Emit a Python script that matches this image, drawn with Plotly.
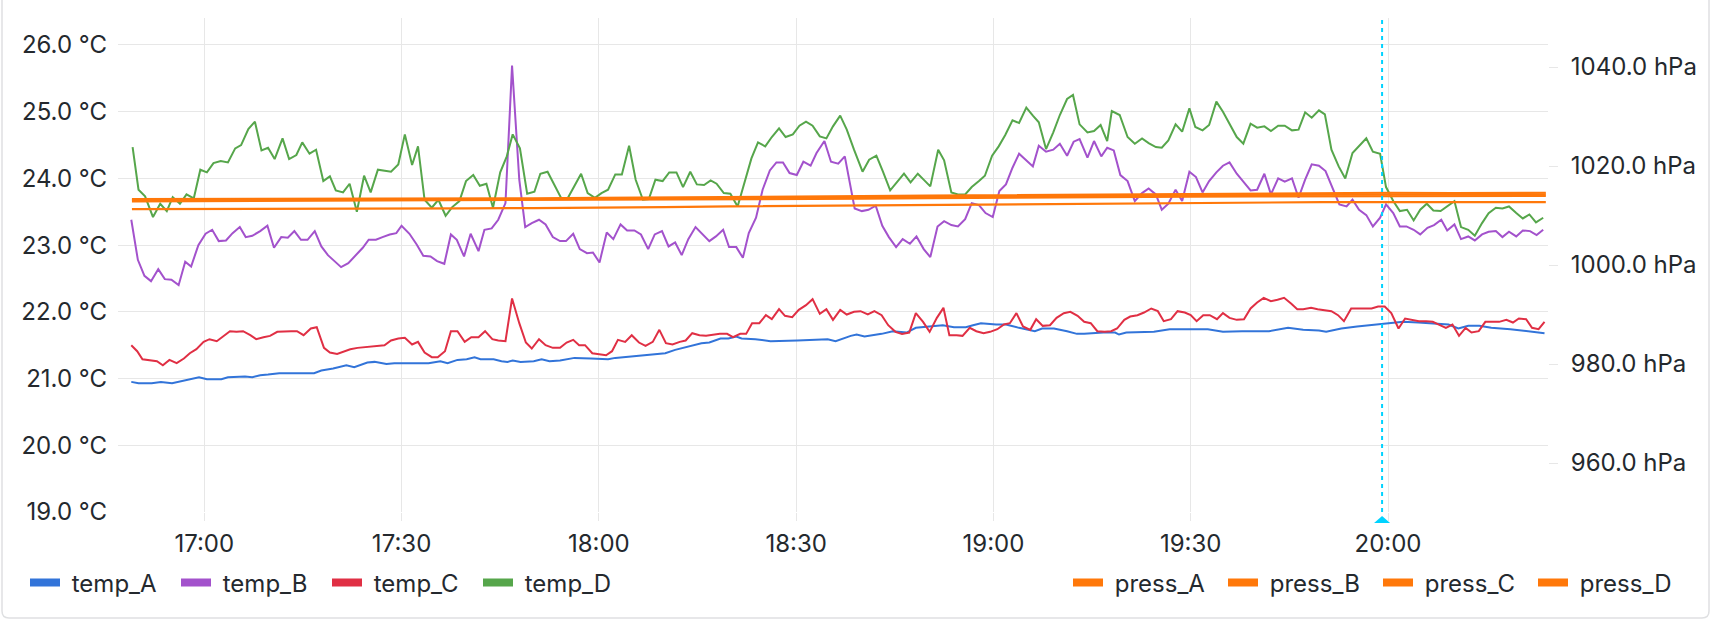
import pandas as pd
import plotly.graph_objects as go

BASE = pd.Timestamp("2024-01-01 17:00:00")

# ---------------- data (minutes after 17:00, values) ----------------
temp_A_min = [-11.1, -10.0, -8.0, -6.6, -4.9, -2.5, -0.8, 0.4, 2.6, 3.6, 6.2, 7.3, 8.5, 9.7, 11.4, 16.7, 17.8, 19.6,
              21.6, 22.8, 24.8, 25.9, 27.7, 28.9, 34.1, 35.9, 37.0, 38.5, 39.9, 41.1, 42.0, 44.0, 45.2, 46.1, 46.9,
              48.1, 50.1, 51.3, 52.5, 54.1, 56.3, 58.8, 61.4, 62.5, 66.3, 68.1, 70.1, 71.6, 73.6, 75.6, 76.8, 78.5,
              79.7, 80.9, 81.7, 83.8, 86.1, 87.9, 90.2, 94.8, 96.0, 98.3, 99.2, 100.4, 103.0, 104.7, 106.8, 108.2,
              112.3, 114.0, 115.8, 116.9, 118.1, 120.4, 121.9, 123.9, 126.3, 127.4, 129.2, 131.2, 132.7, 133.8,
              136.7, 138.5, 139.1, 140.2, 141.5, 144.4, 146.8, 149.7, 152.6, 154.9, 157.8, 161.9, 164.8, 167.1,
              169.5, 170.6, 172.9, 175.3, 177.6, 179.9, 182.3, 184.6, 186.9, 189.2, 190.7, 192.2, 193.9, 195.7,
              198.6, 200.9, 203.8]
temp_A = [20.95, 20.93, 20.93, 20.95, 20.93, 20.98, 21.02, 20.99, 20.99, 21.02, 21.03, 21.02, 21.05, 21.06, 21.08,
          21.08, 21.12, 21.15, 21.20, 21.17, 21.24, 21.25, 21.22, 21.23, 21.23, 21.26, 21.23, 21.28, 21.29, 21.32,
          21.29, 21.29, 21.26, 21.25, 21.27, 21.25, 21.26, 21.29, 21.26, 21.27, 21.31, 21.30, 21.29, 21.31, 21.34,
          21.36, 21.38, 21.43, 21.48, 21.53, 21.54, 21.60, 21.60, 21.63, 21.60, 21.59, 21.56, 21.56, 21.57, 21.59,
          21.56, 21.64, 21.66, 21.63, 21.67, 21.71, 21.69, 21.76, 21.80, 21.77, 21.77, 21.80, 21.83, 21.81, 21.81,
          21.76, 21.71, 21.75, 21.75, 21.71, 21.67, 21.67, 21.69, 21.69, 21.66, 21.69, 21.69, 21.70, 21.74, 21.74,
          21.74, 21.70, 21.71, 21.71, 21.76, 21.73, 21.72, 21.70, 21.75, 21.78, 21.80, 21.83, 21.85, 21.84, 21.83,
          21.81, 21.75, 21.79, 21.79, 21.76, 21.74, 21.71, 21.68]

temp_B_min = [-11.1, -10.1, -9.1, -8.1, -7.0, -6.0, -5.0, -3.9, -2.9, -2.0, -0.9, 0.2, 1.2, 2.2, 3.3, 4.3, 5.4, 6.3,
              7.3, 8.5, 9.6, 10.6, 11.7, 12.7, 13.7, 14.7, 15.7, 16.8, 17.8, 18.8, 19.8, 20.8, 21.9, 22.9, 24.1,
              25.0, 26.1, 27.1, 28.2, 29.2, 30.0, 31.2, 32.3, 33.3, 34.4, 35.4, 36.5, 37.5, 38.4, 39.5, 40.5, 41.7,
              42.6, 43.7, 44.7, 45.8, 46.8, 47.9, 48.8, 49.8, 50.9, 51.9, 53.0, 54.1, 55.0, 56.1, 57.1, 58.2, 59.1,
              60.1, 61.2, 62.2, 63.3, 64.3, 65.4, 66.4, 67.5, 68.5, 69.6, 70.6, 71.6, 72.6, 73.6, 74.7, 75.7, 76.8,
              77.8, 78.9, 79.8, 80.9, 81.9, 82.8, 83.9, 84.9, 86.0, 87.0, 88.0, 89.0, 90.1, 91.1, 92.2, 93.1, 94.3,
              95.3, 96.4, 97.4, 98.9, 100.0, 101.0, 102.1, 103.1, 104.1, 105.2, 106.2, 107.3, 108.3, 109.4, 110.4,
              111.5, 112.5, 113.6, 114.6, 115.7, 116.7, 117.8, 118.8, 119.9, 120.9, 121.9, 122.9, 123.9, 125.0,
              126.0, 126.9, 128.0, 129.1, 130.1, 131.2, 132.2, 133.1, 134.3, 135.3, 136.4, 137.3, 138.3, 139.3,
              140.4, 141.5, 142.6, 143.6, 144.7, 145.6, 146.6, 147.7, 148.7, 149.8, 150.8, 151.8, 152.8, 153.9,
              154.9, 155.9, 157.0, 158.0, 159.1, 160.1, 161.2, 162.2, 163.3, 164.3, 165.4, 166.4, 167.4, 168.4,
              169.5, 170.5, 171.6, 172.6, 173.7, 174.6, 175.6, 176.7, 177.7, 178.8, 179.7, 180.8, 181.8, 182.8,
              183.9, 184.9, 186.0, 187.0, 188.1, 189.0, 190.1, 191.1, 192.2, 193.2, 194.3, 195.3, 196.4, 197.4,
              198.4, 199.5, 200.5, 201.6, 202.6, 203.6]
temp_B = [23.38, 22.78, 22.54, 22.46, 22.64, 22.49, 22.48, 22.40, 22.75, 22.68, 23.00, 23.17, 23.23, 23.06, 23.07,
          23.18, 23.27, 23.12, 23.14, 23.21, 23.29, 22.96, 23.12, 23.11, 23.21, 23.08, 23.08, 23.21, 22.98, 22.85,
          22.76, 22.67, 22.73, 22.84, 22.96, 23.08, 23.08, 23.12, 23.16, 23.18, 23.29, 23.17, 23.01, 22.84, 22.83,
          22.76, 22.72, 23.16, 23.08, 22.83, 23.17, 22.91, 23.23, 23.25, 23.38, 23.63, 25.69, 23.98, 23.27, 23.33,
          23.38, 23.31, 23.12, 23.06, 23.06, 23.17, 22.94, 22.88, 22.89, 22.74, 23.19, 23.09, 23.31, 23.22, 23.22,
          23.16, 22.94, 23.16, 23.21, 22.98, 23.04, 22.85, 23.09, 23.27, 23.17, 23.06, 23.13, 23.23, 22.97, 22.97,
          22.81, 23.18, 23.41, 23.83, 24.12, 24.24, 24.24, 24.08, 24.05, 24.25, 24.19, 24.38, 24.56, 24.25, 24.22,
          24.33, 23.55, 23.51, 23.53, 23.59, 23.29, 23.12, 22.97, 23.09, 23.02, 23.13, 22.94, 22.82, 23.28, 23.36,
          23.30, 23.28, 23.39, 23.63, 23.60, 23.48, 23.42, 23.81, 23.91, 24.16, 24.37, 24.27, 24.18, 24.49, 24.40,
          24.43, 24.52, 24.34, 24.55, 24.59, 24.31, 24.56, 24.33, 24.46, 24.42, 24.05, 23.96, 23.66, 23.78, 23.85,
          23.76, 23.53, 23.62, 23.83, 23.66, 24.10, 24.02, 23.79, 23.96, 24.09, 24.19, 24.24, 24.07, 23.95, 23.82,
          23.83, 24.07, 23.76, 24.00, 23.95, 24.00, 23.71, 23.98, 24.21, 24.19, 24.11, 23.84, 23.61, 23.58, 23.68,
          23.53, 23.45, 23.28, 23.41, 23.61, 23.48, 23.28, 23.28, 23.23, 23.16, 23.26, 23.30, 23.38, 23.22, 23.31,
          23.09, 23.13, 23.07, 23.16, 23.20, 23.21, 23.12, 23.20, 23.13, 23.22, 23.21, 23.15, 23.23]

temp_C_min = [-11.1, -10.2, -9.4, -8.3, -7.2, -6.3, -5.3, -4.2, -3.1, -2.2, -1.2, -0.1, 0.8, 1.9, 2.9, 3.9, 4.9, 5.9,
              7.0, 7.9, 9.0, 10.0, 11.1, 12.1, 13.2, 14.1, 15.1, 16.2, 17.1, 18.2, 19.1, 20.2, 21.2, 22.2, 23.3,
              24.3, 25.4, 26.4, 27.4, 28.4, 29.5, 30.5, 31.6, 32.5, 33.5, 34.6, 35.5, 36.6, 37.5, 38.5, 39.6, 40.6,
              41.7, 42.7, 43.8, 44.7, 45.8, 46.8, 47.9, 48.9, 49.8, 50.9, 51.9, 53.0, 54.1, 55.1, 56.1, 57.0, 57.9,
              59.0, 60.0, 61.1, 62.0, 62.9, 64.0, 65.0, 66.1, 67.1, 68.2, 69.2, 70.2, 71.2, 72.3, 73.2, 74.2, 75.3,
              76.3, 77.4, 78.4, 79.5, 80.4, 81.5, 82.4, 83.3, 84.4, 85.4, 86.3, 87.4, 88.3, 89.4, 90.4, 91.5, 92.5,
              93.6, 94.6, 95.6, 96.7, 97.7, 98.8, 99.8, 100.9, 101.9, 103.0, 104.0, 105.1, 106.1, 107.2, 108.2,
              109.3, 110.3, 111.4, 112.4, 113.3, 114.4, 115.3, 116.4, 117.4, 118.5, 119.5, 120.6, 121.6, 122.5,
              123.5, 124.5, 125.6, 126.5, 127.5, 128.6, 129.6, 130.7, 131.7, 132.8, 133.8, 134.8, 135.8, 136.9,
              137.9, 138.8, 139.9, 140.8, 141.9, 142.9, 144.0, 145.0, 145.9, 147.0, 148.0, 149.1, 150.0, 150.9,
              151.9, 152.9, 154.0, 154.9, 155.9, 157.0, 158.1, 159.1, 160.1, 161.1, 162.2, 163.2, 164.2, 165.3,
              166.2, 167.1, 168.3, 169.3, 170.4, 171.4, 172.4, 173.3, 174.4, 175.4, 176.4, 177.5, 178.5, 179.5,
              180.5, 181.6, 182.6, 183.7, 184.7, 185.8, 186.8, 187.9, 188.8, 189.8, 190.8, 191.8, 192.7, 193.8,
              194.8, 195.9, 196.9, 198.0, 199.0, 199.9, 201.0, 201.9, 202.9, 203.8]
temp_C = [21.50, 21.41, 21.29, 21.27, 21.26, 21.20, 21.28, 21.23, 21.30, 21.38, 21.44, 21.55, 21.59, 21.56, 21.64,
          21.71, 21.70, 21.71, 21.65, 21.59, 21.62, 21.64, 21.70, 21.71, 21.71, 21.71, 21.65, 21.75, 21.77, 21.46,
          21.39, 21.37, 21.40, 21.44, 21.46, 21.47, 21.47, 21.48, 21.50, 21.57, 21.60, 21.61, 21.51, 21.55, 21.39,
          21.32, 21.32, 21.41, 21.71, 21.71, 21.55, 21.62, 21.62, 21.71, 21.59, 21.57, 21.56, 22.20, 21.83, 21.54,
          21.45, 21.59, 21.50, 21.46, 21.46, 21.54, 21.58, 21.50, 21.50, 21.38, 21.37, 21.35, 21.41, 21.58, 21.55,
          21.65, 21.54, 21.49, 21.55, 21.73, 21.53, 21.51, 21.55, 21.57, 21.68, 21.65, 21.64, 21.66, 21.67, 21.67,
          21.62, 21.67, 21.67, 21.83, 21.83, 21.95, 21.89, 22.04, 21.94, 21.92, 22.03, 22.10, 22.19, 21.97, 22.04,
          21.88, 22.03, 21.96, 22.00, 22.01, 21.96, 22.01, 21.95, 21.80, 21.70, 21.67, 21.69, 21.98, 21.85, 21.70,
          21.91, 22.06, 21.65, 21.65, 21.64, 21.76, 21.71, 21.68, 21.70, 21.74, 21.81, 21.83, 21.98, 21.78, 21.73,
          21.89, 21.79, 21.80, 21.91, 21.98, 22.00, 21.94, 21.85, 21.83, 21.71, 21.70, 21.71, 21.75, 21.88, 21.93,
          21.95, 21.99, 22.05, 22.01, 21.86, 21.89, 22.01, 21.99, 21.95, 21.86, 21.95, 21.95, 21.89, 21.98, 21.91,
          21.88, 21.89, 22.05, 22.14, 22.21, 22.16, 22.18, 22.21, 22.12, 22.04, 22.04, 22.06, 22.04, 22.03, 22.01,
          21.95, 21.86, 22.05, 22.05, 22.06, 22.05, 22.08, 22.08, 21.98, 21.75, 21.90, 21.88, 21.86, 21.86, 21.85,
          21.80, 21.76, 21.81, 21.64, 21.76, 21.69, 21.71, 21.85, 21.85, 21.85, 21.88, 21.84, 21.90, 21.89, 21.76,
          21.74, 21.85]

temp_D_min = [-10.9, -10.0, -9.0, -7.8, -6.7, -5.7, -4.8, -3.7, -2.7, -1.6, -0.6, 0.4, 1.4, 2.5, 3.6, 4.7, 5.6, 6.7,
              7.7, 8.7, 9.7, 10.7, 11.9, 12.9, 14.0, 14.9, 16.0, 17.0, 18.1, 19.1, 20.0, 21.1, 22.1, 23.2, 24.3,
              25.3, 26.4, 27.4, 28.4, 29.5, 30.5, 31.6, 32.5, 33.5, 34.6, 35.6, 36.7, 37.7, 38.8, 39.8, 40.9, 41.9,
              42.9, 43.9, 45.0, 46.0, 46.9, 48.0, 49.1, 50.2, 51.1, 52.2, 53.2, 54.3, 55.3, 56.4, 57.3, 58.3, 59.4,
              60.4, 61.4, 62.5, 63.5, 64.6, 65.6, 66.7, 67.6, 68.6, 69.7, 70.7, 71.8, 72.8, 73.9, 74.9, 76.0, 77.0,
              77.9, 79.0, 80.0, 81.1, 82.1, 83.2, 84.2, 85.3, 86.3, 87.4, 88.4, 89.5, 90.5, 91.5, 92.5, 93.6, 94.6,
              95.6, 96.7, 97.7, 98.8, 100.1, 101.1, 102.2, 103.2, 104.3, 105.3, 106.4, 107.4, 108.5, 109.5, 110.4,
              111.6, 112.5, 113.6, 114.6, 115.7, 116.7, 117.8, 118.7, 119.8, 120.8, 121.8, 122.9, 123.9, 125.0,
              126.0, 126.9, 128.0, 129.1, 130.1, 131.2, 132.1, 133.1, 134.3, 135.3, 136.3, 137.3, 138.0, 139.2,
              140.4, 141.5, 142.6, 143.6, 144.7, 145.6, 146.6, 147.7, 148.7, 149.8, 150.7, 151.8, 152.8, 153.9,
              154.9, 155.9, 157.0, 158.0, 159.1, 160.1, 161.2, 162.2, 163.3, 164.3, 165.4, 166.4, 167.4, 168.4,
              169.5, 170.4, 171.4, 172.5, 173.5, 174.6, 175.6, 176.7, 177.7, 178.8, 179.7, 180.8, 181.8, 182.9,
              183.9, 184.9, 185.9, 186.9, 188.0, 189.0, 190.1, 191.1, 192.2, 193.2, 194.3, 195.3, 196.4, 197.4,
              198.4, 199.5, 200.5, 201.5, 202.5, 203.6]
temp_D = [24.47, 23.83, 23.73, 23.42, 23.62, 23.51, 23.72, 23.62, 23.76, 23.70, 24.13, 24.09, 24.23, 24.26, 24.24,
          24.45, 24.50, 24.74, 24.85, 24.42, 24.46, 24.29, 24.60, 24.29, 24.35, 24.54, 24.37, 24.43, 23.96, 24.03,
          23.82, 23.79, 23.92, 23.50, 24.04, 23.79, 24.13, 24.11, 24.10, 24.21, 24.66, 24.20, 24.48, 23.68, 23.56,
          23.68, 23.44, 23.57, 23.66, 23.96, 24.05, 23.89, 23.92, 23.56, 24.09, 24.33, 24.66, 24.45, 23.77, 23.80,
          24.07, 24.10, 23.90, 23.70, 23.71, 23.90, 24.07, 23.78, 23.71, 23.78, 23.83, 24.06, 24.06, 24.49, 23.98,
          23.68, 23.69, 23.98, 23.96, 24.09, 24.09, 23.87, 24.10, 23.91, 23.90, 23.97, 23.92, 23.78, 23.77, 23.58,
          23.93, 24.30, 24.54, 24.48, 24.62, 24.75, 24.62, 24.66, 24.79, 24.85, 24.79, 24.63, 24.60, 24.78, 24.94,
          24.73, 24.43, 24.10, 24.28, 24.34, 24.10, 23.82, 23.94, 24.07, 23.94, 24.07, 23.97, 23.88, 24.43, 24.27,
          23.79, 23.76, 23.76, 23.87, 23.96, 24.04, 24.34, 24.48, 24.65, 24.87, 24.83, 25.06, 24.94, 24.84, 24.44,
          24.69, 24.95, 25.19, 25.25, 24.81, 24.69, 24.71, 24.80, 24.56, 25.01, 24.95, 24.62, 24.52, 24.60, 24.53,
          24.47, 24.46, 24.57, 24.81, 24.70, 25.05, 24.77, 24.72, 24.80, 25.15, 25.00, 24.82, 24.62, 24.52, 24.82,
          24.76, 24.78, 24.71, 24.79, 24.79, 24.72, 24.73, 24.99, 24.91, 25.02, 24.96, 24.43, 24.18, 24.00, 24.38,
          24.49, 24.60, 24.40, 24.37, 23.87, 23.66, 23.51, 23.53, 23.37, 23.53, 23.62, 23.52, 23.51, 23.58, 23.66,
          23.27, 23.23, 23.14, 23.33, 23.48, 23.56, 23.55, 23.58, 23.48, 23.40, 23.46, 23.34, 23.41]

press_min = [-11, 0, 10, 20, 30, 40, 50, 60, 70, 80, 90, 100, 110, 120, 130, 140, 150, 160, 170, 180, 190, 204]
press_A = [1013.30, 1013.30, 1013.35, 1013.35, 1013.40, 1013.40, 1013.45, 1013.55, 1013.60, 1013.70, 1013.80,
           1013.90, 1014.00, 1014.10, 1014.20, 1014.35, 1014.45, 1014.50, 1014.55, 1014.60, 1014.55, 1014.60]
press_B = [1013.10, 1013.10, 1013.15, 1013.20, 1013.20, 1013.25, 1013.30, 1013.35, 1013.40, 1013.45, 1013.55,
           1013.65, 1013.75, 1013.85, 1013.95, 1014.05, 1014.10, 1014.15, 1014.20, 1014.25, 1014.20, 1014.25]
press_C = [1012.85, 1012.90, 1012.90, 1012.95, 1013.00, 1013.00, 1013.05, 1013.10, 1013.15, 1013.20, 1013.30,
           1013.40, 1013.50, 1013.60, 1013.65, 1013.75, 1013.80, 1013.85, 1013.90, 1013.95, 1013.90, 1013.95]
press_D = [1011.30, 1011.30, 1011.35, 1011.35, 1011.40, 1011.45, 1011.50, 1011.55, 1011.70, 1011.85, 1011.95,
           1012.10, 1012.20, 1012.35, 1012.45, 1012.55, 1012.60, 1012.65, 1012.70, 1012.70, 1012.70, 1012.70]

temp_ticks = [19, 20, 21, 22, 23, 24, 25, 26]
temp_ticktext = [f"{v:.1f} °C" for v in temp_ticks]
press_ticks = [960, 980, 1000, 1020, 1040]
press_ticktext = [f"{v:.1f} hPa" for v in press_ticks]
annotation_min = 179.1
x_range_min = [-13.12, 204.33]
temp_range = [19.0, 26.404]
press_range = [950.1, 1049.9]

COLORS = {"temp_A": "#3274D9", "temp_B": "#A352CC", "temp_C": "#E02F44", "temp_D": "#56A64B",
          "press": "#FF780A"}


def to_time(mins):
    return [BASE + pd.Timedelta(minutes=float(m)) for m in mins]


# ---------------- figure ----------------
W, H = 1712, 620
ML, MR, MT, MB = 118, 164, 18, 108
PW, PH = W - ML - MR, H - MT - MB
FONT = "Inter, Roboto, sans-serif"
TXT = "#24292e"
GRID = "#e7e7e7"
ANN = "#00D3FF"
GAP = "\u00a0"  # small gap between legend swatch and label

fig = go.Figure()

temps = [("temp_A", temp_A_min, temp_A), ("temp_B", temp_B_min, temp_B),
         ("temp_C", temp_C_min, temp_C), ("temp_D", temp_D_min, temp_D)]
for name, mins, vals in temps:
    fig.add_trace(go.Scatter(x=to_time(mins), y=vals, mode="lines", name=name, showlegend=False,
                             line=dict(color=COLORS[name], width=2), hoverinfo="skip"))

for name, vals in [("press_A", press_A), ("press_B", press_B), ("press_C", press_C), ("press_D", press_D)]:
    fig.add_trace(go.Scatter(x=to_time(press_min), y=vals, mode="lines", name=name, showlegend=False,
                             yaxis="y2", line=dict(color=COLORS["press"], width=2.2), hoverinfo="skip"))

# legend entries (thick swatches)
for name, _, _ in temps:
    fig.add_trace(go.Scatter(x=[None], y=[None], mode="lines", name=GAP + name, legend="legend",
                             line=dict(color=COLORS[name], width=8)))
for name in ["press_A", "press_B", "press_C", "press_D"]:
    fig.add_trace(go.Scatter(x=[None], y=[None], mode="lines", name=GAP + name, legend="legend2", yaxis="y2",
                             line=dict(color=COLORS["press"], width=8)))

# annotation: dashed line + small triangle under the axis
ann_t = to_time([annotation_min])[0]
fig.add_shape(type="line", xref="x", yref="paper", x0=ann_t, x1=ann_t, y0=0, y1=1,
              line=dict(color=ANN, width=2, dash="4px,4px"))
fig.add_shape(type="path", xref="x", yref="paper", xsizemode="pixel", ysizemode="pixel",
              xanchor=ann_t, yanchor=0, path="M -8,-11 L 8,-11 L 0,-4 Z",
              fillcolor=ANN, line=dict(width=0))


def px(x):
    return (x - ML) / PW


def py(y):
    return (H - MB - y) / PH


card = (f"M {px(2)},{py(-10)} L {px(2)},{py(611)} Q {px(2)},{py(618)} {px(9)},{py(618)} "
        f"L {px(1702)},{py(618)} Q {px(1709)},{py(618)} {px(1709)},{py(611)} L {px(1709)},{py(-10)}")
fig.add_shape(type="path", xref="paper", yref="paper", path=card, line=dict(color="#dfe0e2", width=1.5))

xr = to_time(x_range_min)
fig.update_layout(
    width=W, height=H,
    margin=dict(l=ML, r=MR, t=MT, b=MB),
    paper_bgcolor="white", plot_bgcolor="white",
    font=dict(family=FONT, size=24, color=TXT),
    hovermode=False,
    xaxis=dict(type="date", range=xr, tickformat="%H:%M", dtick=30 * 60 * 1000, tick0=BASE,
               showgrid=True, gridcolor=GRID, gridwidth=1, ticks="outside", ticklen=8, tickcolor=GRID,
               showline=False, zeroline=False, ticklabelstandoff=2, tickfont=dict(size=24, color=TXT)),
    yaxis=dict(range=temp_range, tickmode="array", tickvals=temp_ticks, ticktext=temp_ticktext,
               showgrid=True, gridcolor=GRID, zeroline=False, showline=False, ticks="",
               ticklabelstandoff=10, tickfont=dict(size=24, color=TXT)),
    yaxis2=dict(range=press_range, tickmode="array", tickvals=press_ticks, ticktext=press_ticktext,
                overlaying="y", side="right", showgrid=False, zeroline=False, showline=False,
                ticks="outside", ticklen=9, tickcolor=GRID, ticklabelstandoff=8,
                tickfont=dict(size=24, color=TXT)),
    legend=dict(orientation="h", x=px(25), xanchor="left", y=py(583), yanchor="middle",
                bgcolor="rgba(0,0,0,0)", font=dict(size=24, color=TXT), entrywidth=106,
                entrywidthmode="pixels", itemclick=False, itemdoubleclick=False),
    legend2=dict(orientation="h", x=px(1068), xanchor="left", y=py(583), yanchor="middle",
                 bgcolor="rgba(0,0,0,0)", font=dict(size=24, color=TXT), entrywidth=110,
                 entrywidthmode="pixels", itemclick=False, itemdoubleclick=False),
)

fig.write_html("out.html")
